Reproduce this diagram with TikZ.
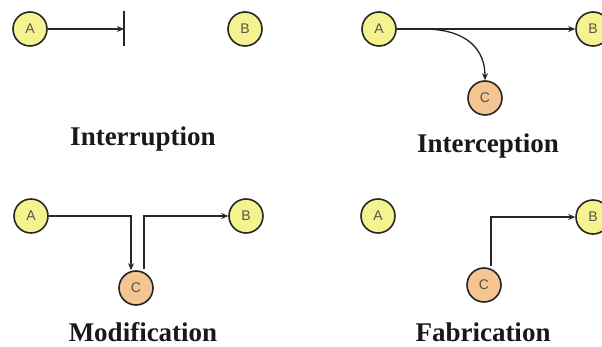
\documentclass[tikz,border=0pt]{standalone}
\usepackage{fontspec}
\setmainfont{Liberation Serif}
\newfontfamily\lblfont{Liberation Sans}
\usetikzlibrary{arrows.meta,calc}
\definecolor{nodey}{HTML}{F5F290}
\definecolor{nodeo}{HTML}{F4C491}
\definecolor{edge}{HTML}{262626}
\definecolor{lbl}{HTML}{55554A}
\tikzset{
  party/.style={circle,draw=edge,line width=1.6pt,minimum size=34pt,inner sep=0pt,
    font=\lblfont\fontsize{14}{14}\selectfont,text=lbl},
  ynode/.style={party,fill=nodey},
  onode/.style={party,fill=nodeo},
  arr/.style={draw=edge,line width=1.3pt,-{Stealth[length=7pt,width=6pt]}},
  conn/.style={draw=edge,line width=1.3pt},
  title/.style={font=\bfseries\fontsize{27}{30}\selectfont,text=black!90}
}
\begin{document}
\begin{tikzpicture}[x=1pt,y=-1pt]
\useasboundingbox (0,0) rectangle (602,347);
% Interruption
\node[ynode] (A1) at (30,29) {A};
\node[ynode] (B1) at (245,29) {B};
\coordinate (bar1) at (124,29);
\coordinate (bart) at (124,11);
\coordinate (barb) at (124,46);
\draw[arr] (A1) -- (bar1);
\draw[conn,line width=1.6pt] (bart) -- (barb);
\node[title] (T1) at (143,139) {Interruption};
% Interception
\node[ynode] (A2) at (379,29) {A};
\node[ynode] (B2) at (593,29) {B};
\node[onode] (C2) at (485,98) {C};
\coordinate (s2) at (423,29);
\draw[arr] (A2) -- (B2);
\draw[arr] (s2) .. controls ($(s2)+(45,0)$) and ($(C2.north)+(0,-30)$) .. (C2.north);
\node[title] (T2) at (488,146) {Interception};
% Modification
\node[ynode] (A3) at (31,216) {A};
\node[ynode] (B3) at (246,216) {B};
\node[onode] (C3) at (136,288) {C};
\draw[arr] (A3.east) -| ([xshift=-5pt]C3.north);
\draw[arr] ([xshift=8pt,yshift=1pt]C3.north) |- (B3.west);
\node[title] (T3) at (143,332) {Modification};
% Fabrication
\node[ynode] (A4) at (378,216) {A};
\node[ynode] (B4) at (593,217) {B};
\node[onode] (C4) at (484,285) {C};
\draw[arr] ([xshift=7pt,yshift=1pt]C4.north) |- (B4.west);
\node[title] (T4) at (483,332) {Fabrication};
\end{tikzpicture}
\end{document}
